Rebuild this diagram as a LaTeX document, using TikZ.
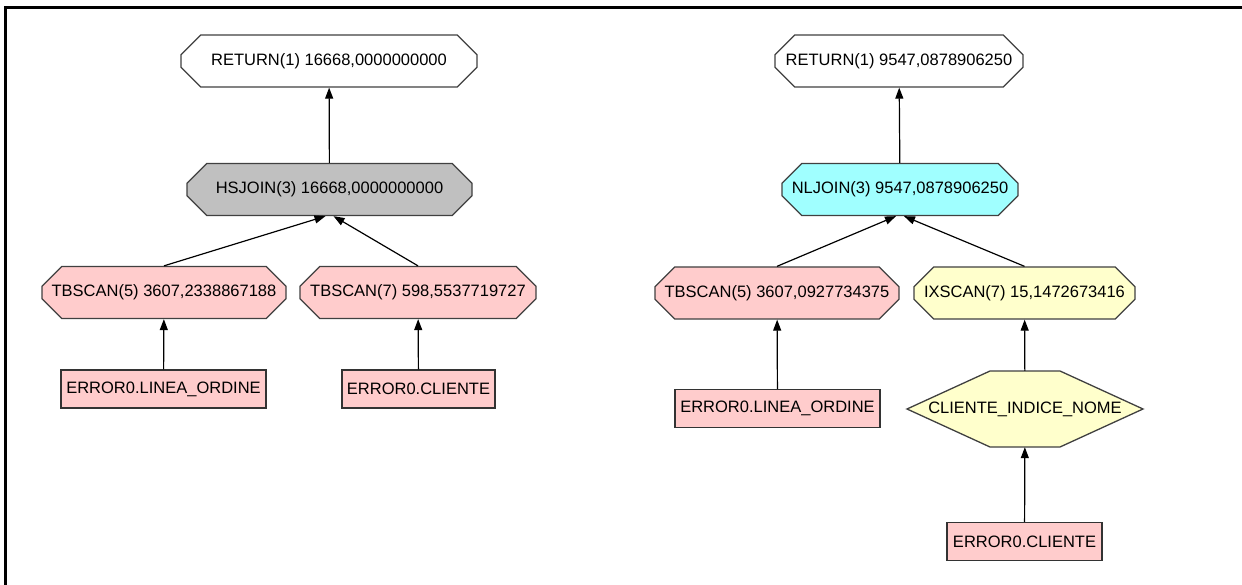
\documentclass[tikz,border=0pt]{standalone}
\usepackage{fontspec}
\setmainfont{Liberation Sans}
\usetikzlibrary{shapes.misc,arrows.meta}

\begin{document}
\begin{tikzpicture}[x=1pt,y=-1pt,
    op/.style={draw=black!75, line width=1.3pt, chamfered rectangle,
      chamfered rectangle xsep=12pt, chamfered rectangle ysep=12pt,
      minimum height=52pt, inner sep=0pt, font=\fontsize{16.5}{20}\selectfont},
    tbl/.style={draw=black!80, line width=1.3pt, fill=scanpink, rectangle,
      minimum height=38pt, inner sep=0pt, font=\fontsize{16.5}{20}\selectfont},
    idx/.style={rectangle, minimum height=76pt, inner sep=0pt,
      font=\fontsize{16.5}{20}\selectfont},
    hexa/.style={draw=black!75, line width=1.3pt, fill=scanyellow},
    flow/.style={-{Triangle[width=8pt,length=11pt]}, line width=1.2pt}
  ]
  \definecolor{scanpink}{RGB}{255,204,204}
  \definecolor{scanyellow}{RGB}{255,255,204}
  \definecolor{joingray}{RGB}{192,192,192}
  \definecolor{joincyan}{RGB}{160,255,255}
  \useasboundingbox (0,0) rectangle (1242,585);
  % Frame
  \draw[line width=3pt] (5.5,585) -- (5.5,7.5) -- (1242,7.5);

  % Nodes - hash join plan
  \node[op, fill=white, minimum width=296pt] (ret1) at (329,61) {RETURN(1) 16668,0000000000};
  \node[op, fill=joingray, minimum width=285pt] (hsjoin) at (329.5,189.5) {HSJOIN(3) 16668,0000000000};
  \node[op, fill=scanpink, minimum width=244pt] (tbscan5a) at (164,292.5) {TBSCAN(5) 3607,2338867188};
  \node[op, fill=scanpink, minimum width=236pt] (tbscan7a) at (418,292.5) {TBSCAN(7) 598,5537719727};
  \node[tbl, minimum width=205pt] (lineaa) at (163.5,389) {ERROR0.LINEA\_ORDINE};
  \node[tbl, minimum width=153pt] (clientea) at (418.5,389) {ERROR0.CLIENTE};

  % Nodes - nested loop plan
  \node[op, fill=white, minimum width=248pt] (ret2) at (899,61) {RETURN(1) 9547,0878906250};
  \node[op, fill=joincyan, minimum width=236pt] (nljoin) at (900,189.5) {NLJOIN(3) 9547,0878906250};
  \node[op, fill=scanpink, minimum width=244pt] (tbscan5b) at (777,293) {TBSCAN(5) 3607,0927734375};
  \node[op, fill=scanyellow, minimum width=221pt] (ixscan7) at (1024.5,293) {IXSCAN(7) 15,1472673416};
  \coordinate (indc) at (1025,409);
  \draw[hexa] (indc) ++(-118,0) -- ++(83,-38) -- ++(70,0) -- ++(83,38)
    -- ++(-83,38) -- ++(-70,0) -- cycle;
  \node[idx, minimum width=236pt] (indice) at (indc) {CLIENTE\_INDICE\_NOME};
  \node[tbl, minimum width=205pt] (lineab) at (777.5,408.5) {ERROR0.LINEA\_ORDINE};
  \node[tbl, minimum width=155pt] (clienteb) at (1024.5,541.5) {ERROR0.CLIENTE};

  % Connection
  \draw[flow] (hsjoin) -- (ret1);
  \draw[flow] (tbscan5a.north) -- ([xshift=-4pt]hsjoin.south);
  \draw[flow] (tbscan7a.north) -- ([xshift=4pt]hsjoin.south);
  \draw[flow] (lineaa) -- (tbscan5a);
  \draw[flow] (clientea) -- (tbscan7a);

  \draw[flow] (nljoin) -- (ret2);
  \draw[flow] (tbscan5b.north) -- ([xshift=-4pt]nljoin.south);
  \draw[flow] (ixscan7.north) -- ([xshift=4pt]nljoin.south);
  \draw[flow] (lineab) -- (tbscan5b);
  \draw[flow] (indice) -- (ixscan7);
  \draw[flow] (clienteb) -- (indice);
\end{tikzpicture}
\end{document}
